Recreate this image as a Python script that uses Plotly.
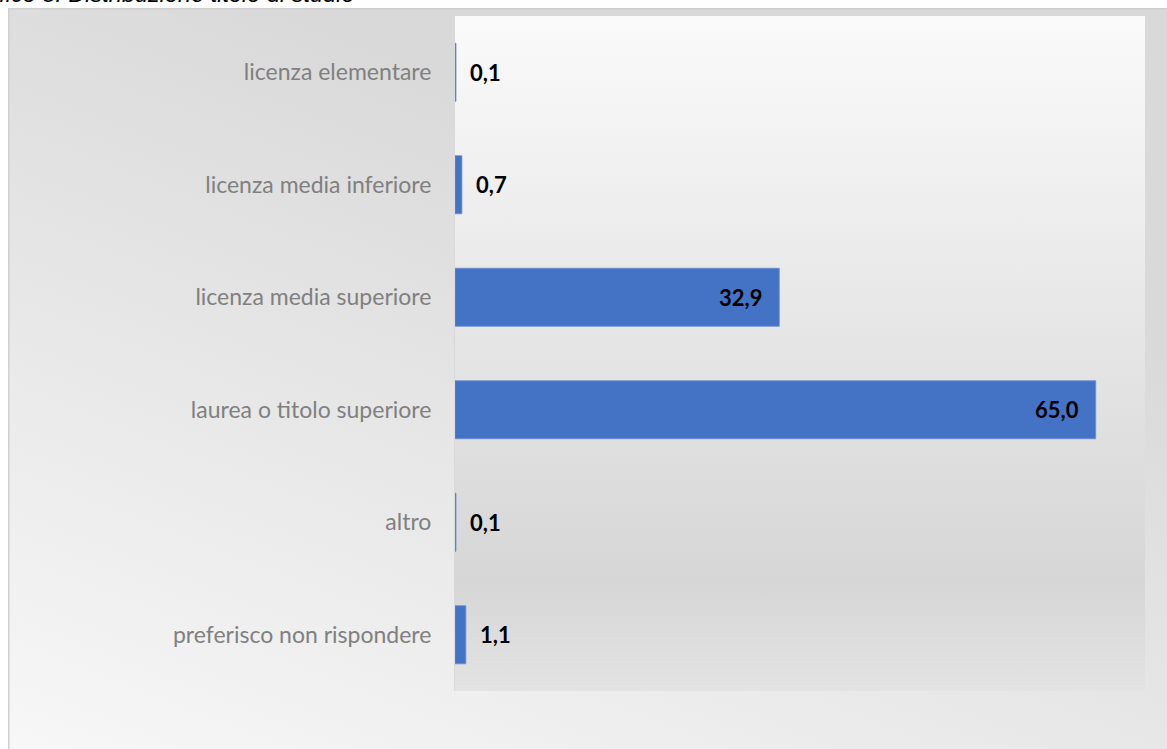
import base64
import plotly.graph_objects as go

# Survey: distribution by educational qualification (%)
categories = [
    "licenza elementare",
    "licenza media inferiore",
    "licenza media superiore",
    "laurea o titolo superiore",
    "altro",
    "preferisco non rispondere",
]
values = [0.1, 0.7, 32.9, 65.0, 0.1, 1.1]

title_text = "Grafico 8. Distribuzione titolo di studio"

W, H = 1167, 749
ML, MR, MT, MB = 455, 22, 16, 58
PW, PH = W - ML - MR, H - MT - MB


def px2x(px):
    return (px - ML) / PW


def py2y(py):
    return (H - MB - py) / PH


def svg_uri(svg):
    return "data:image/svg+xml;base64," + base64.b64encode(svg.encode()).decode()


# chart-area background: diagonal grey gradient with a thin frame
outer_w, outer_h = W - 8, H - 8
outer_svg = f"""<svg xmlns='http://www.w3.org/2000/svg' width='{outer_w}' height='{outer_h}' viewBox='0 0 {outer_w} {outer_h}' preserveAspectRatio='none'>
<defs><linearGradient id='g' gradientUnits='userSpaceOnUse' x1='0' y1='{outer_h}' x2='290' y2='0'>
<stop offset='0' stop-color='#f7f7f7'/><stop offset='1' stop-color='#d9d9d9'/></linearGradient></defs>
<rect x='0' y='0' width='{outer_w}' height='{outer_h}' fill='url(#g)'/>
<path d='M0.75 {outer_h} L0.75 0.75 L{outer_w} 0.75' fill='none' stroke='#d0d0d0' stroke-width='1.5'/>
</svg>"""

# plot-area background: vertical gradient, light at the top
inner_w, inner_h = 691, 675
inner_svg = f"""<svg xmlns='http://www.w3.org/2000/svg' width='{inner_w}' height='{inner_h}' viewBox='0 0 {inner_w} {inner_h}' preserveAspectRatio='none'>
<defs><linearGradient id='p' x1='0' y1='0' x2='0' y2='1'>
<stop offset='0' stop-color='#fafafa'/><stop offset='0.84' stop-color='#d6d6d6'/><stop offset='1' stop-color='#e3e3e3'/></linearGradient></defs>
<rect x='0' y='0' width='{inner_w}' height='{inner_h}' fill='url(#p)'/>
</svg>"""

fig = go.Figure(
    go.Bar(
        x=values,
        y=categories,
        orientation="h",
        marker=dict(color="#4472C4", line=dict(color="#6a8fd6", width=0.8)),
        hoverinfo="skip",
    )
)

# value labels: inside end for long bars, just past the end for short ones
label_font = dict(family="Lato", size=22, color="#000000", weight="bold")
for cat, v in zip(categories, values):
    txt = f"{v:.1f}".replace(".", ",")
    if v > 10:
        fig.add_annotation(x=v, y=cat, xref="x", yref="y", text=txt, showarrow=False,
                           xanchor="right", xshift=-15, font=label_font)
    else:
        fig.add_annotation(x=v, y=cat, xref="x", yref="y", text=txt, showarrow=False,
                           xanchor="left", xshift=12, font=label_font)

fig.add_annotation(
    x=px2x(356), y=py2y(9.5), xref="paper", yref="paper",
    xanchor="right", yanchor="bottom", showarrow=False, text=title_text,
    font=dict(family="Liberation Sans", size=23.5, color="#000000", style="italic"),
)

fig.update_layout(
    width=W, height=H,
    margin=dict(l=ML, r=MR, t=MT, b=MB, pad=0),
    paper_bgcolor="#ffffff",
    plot_bgcolor="rgba(0,0,0,0)",
    showlegend=False,
    bargap=0.484,
    images=[
        dict(source=svg_uri(outer_svg), xref="paper", yref="paper",
             x=px2x(8), y=py2y(8), sizex=outer_w / PW, sizey=outer_h / PH,
             xanchor="left", yanchor="top", sizing="stretch", layer="below"),
        dict(source=svg_uri(inner_svg), xref="paper", yref="paper",
             x=px2x(454), y=py2y(16), sizex=inner_w / PW, sizey=inner_h / PH,
             xanchor="left", yanchor="top", sizing="stretch", layer="below"),
    ],
    xaxis=dict(range=[0, 70], visible=False, showgrid=False, zeroline=False, fixedrange=True),
    yaxis=dict(
        categoryorder="array", categoryarray=categories, autorange="reversed",
        showline=True, linecolor="#d9d9d9", linewidth=1, showgrid=False, zeroline=False,
        ticks="", ticklabelstandoff=18,
        tickfont=dict(family="Lato", size=23, color="#808080"),
        fixedrange=True,
    ),
)

fig.write_html("out.html")
